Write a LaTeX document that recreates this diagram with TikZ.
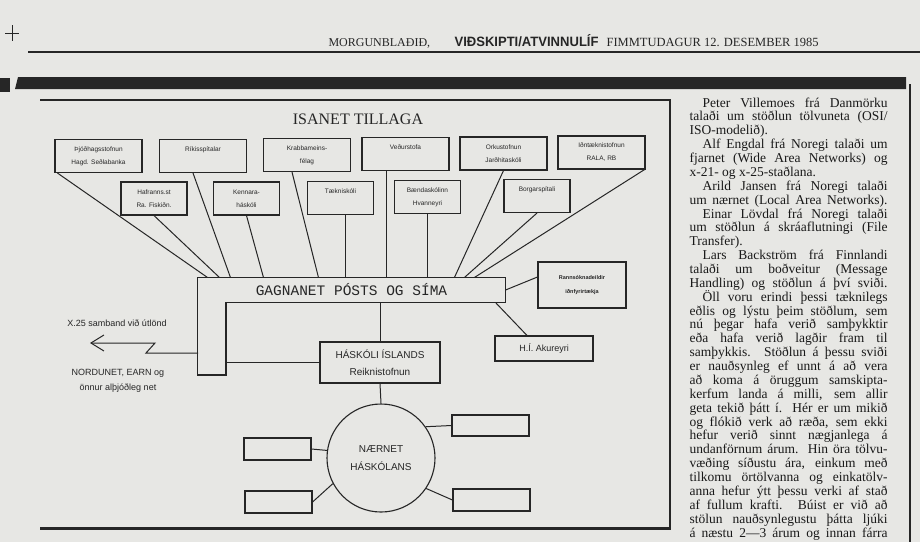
\documentclass[tikz,border=0pt]{standalone}
\usepackage{fontspec}
\setmainfont{Liberation Serif}
\setsansfont{Liberation Sans}
\setmonofont{Liberation Mono}
\usepackage{graphicx}
\usetikzlibrary{arrows.meta,positioning,calc}
\definecolor{paper}{HTML}{E7E7E4}
\definecolor{ink}{HTML}{262626}
\newcommand{\jl}[1]{\makebox[198pt][s]{#1}}
\newcommand{\shortl}[1]{\makebox[198pt][l]{#1}}
\newcommand{\ind}{\hspace*{13pt}}

\begin{document}
\begin{tikzpicture}[
  x=1pt, y=-1pt, line width=1.1pt, ink,
  topbox/.style={draw=ink, minimum width=87pt, minimum height=33pt, inner sep=1pt, align=center, font=\sffamily\fontsize{6.5}{13}\selectfont},
  lowbox/.style={topbox, minimum width=66pt},
  emptybox/.style={draw=ink, inner sep=0pt},
  lbl/.style={font=\sffamily\fontsize{9}{15}\selectfont, align=center, inner sep=0pt},
  biglbl/.style={font=\sffamily\fontsize{10}{17}\selectfont, align=center, inner sep=0pt},
  link/.style={draw=ink, line width=1pt},
]
\fill[paper] (0,0) rectangle (920,542);
\useasboundingbox (0,0) rectangle (920,542);

% page head
\coordinate (crossc) at (12,33);
\draw[line width=0.6pt] ([xshift=-7pt]crossc) -- ([xshift=7pt]crossc);
\draw[line width=0.6pt] ([yshift=8pt]crossc) -- ([yshift=-8pt]crossc);
\node[anchor=base west, inner sep=0pt, font=\fontsize{12}{12}\selectfont] (hdpaper) at (328,46) {MORGUNBLAÐIÐ,};
\node[anchor=base west, inner sep=0pt] (hdsect) at (454,46) {\resizebox{144pt}{12pt}{\sffamily\bfseries VIÐSKIPTI/ATVINNULÍF}};
\node[anchor=base west, inner sep=0pt, font=\fontsize{12.5}{12}\selectfont] (hddate) at (606,46) {FIMMTUDAGUR 12. DESEMBER 1985};
\draw[line width=1.5pt] (28,52) -- (920,52);

% article bar and rules
\fill (0,78) rectangle (10,92);
\fill (18,77) -- (906,77) -- (906,89) -- (15,89) -- cycle;
\draw[line width=2pt] (910,84) -- (910,542);

% diagram frame
\draw[line width=1.8pt] (40,100) -- (670,100) -- (670,528);
\draw[line width=3pt] (40,528) -- (671,528);
\node[inner sep=0pt, font=\fontsize{16}{16}\selectfont] (title) at (358,119) {ISANET TILLAGA};

% top row
\node[topbox] (thj)   at (98.5,156) {Þjóðhagsstofnun\\Hagd. Seðlabanka};
\node[topbox] (riki)  at (203,156)  {Ríkisspítalar\\\mbox{}};
\node[topbox] (krabb) at (307,155)  {Krabbameins-\\félag};
\node[topbox] (vedur) at (405.5,154) {Veðurstofa\\\mbox{}};
\node[topbox] (orku)  at (503.5,153.5) {Orkustofnun\\Jarðhitaskóli};
\node[topbox] (idn)   at (601.5,152.5) {Iðntæknistofnun\\RALA, RB};

% second row
\node[lowbox] (hafr)   at (154,198.5)   {Hafranns.st\\Ra. Fiskiðn.};
\node[lowbox] (kenn)   at (246.5,198.5) {Kennara-\\háskóli};
\node[lowbox] (taekni) at (340.5,198)   {Tækniskóli\\\mbox{}};
\node[lowbox] (baend)  at (427.5,197)   {Bændaskólinn\\Hvanneyri};
\node[lowbox] (borg)   at (537,196)     {Borgarspítali\\\mbox{}};

% gagnanet
\node[minimum width=307pt, minimum height=24pt, inner sep=0pt, font=\ttfamily\fontsize{14.5}{14.5}\selectfont] (gagn) at (351.5,290) {GAGNANET PÓSTS OG SÍMA};
\coordinate (legbot) at (226,375);
\draw (gagn.north west) -- (gagn.north east) -- (gagn.south east) -- (legbot |- gagn.south) -- (legbot) -- (legbot -| gagn.west) -- cycle;

\draw[link] ([xshift=3pt]thj.south west) -- ([xshift=10pt]gagn.north west);
\draw[link] (hafr.south) -- ([xshift=22pt]gagn.north west);
\draw[link] ([xshift=-10pt]riki.south) -- ([xshift=33pt]gagn.north west);
\draw[link] (kenn.south) -- ([xshift=66pt]gagn.north west);
\draw[link] ([xshift=-15pt]krabb.south) -- ([xshift=121pt]gagn.north west);
\draw[link] ([xshift=4.5pt]taekni.south) -- ([xshift=4.5pt]taekni.south |- gagn.north);
\draw[link] ([xshift=-19.5pt]vedur.south) -- ([xshift=-19.5pt]vedur.south |- gagn.north);
\draw[link] (baend.south) -- (baend.south |- gagn.north);
\draw[link] (orku.south) -- ([xshift=257pt]gagn.north west);
\draw[link] (borg.south) -- ([xshift=267pt]gagn.north west);
\draw[link] ([xshift=-1pt]idn.south east) -- ([xshift=277pt]gagn.north west);

% right hand side
\node[draw, minimum width=88pt, minimum height=46pt, inner sep=0pt, align=center, font=\sffamily\bfseries\fontsize{5.5}{14}\selectfont] (rann) at (582,285) {Rannsóknadeildir\\iðnfyrirtækja};
\draw[link] (gagn.east) -- ([yshift=8pt]rann.west);
\node[draw, minimum width=98pt, minimum height=25pt, lbl] (hia) at (544,348.5) {H.Í. Akureyri};
\draw[link] ([xshift=-10pt]gagn.south east) -- ([xshift=-17pt]hia.north);

% haskoli
\node[draw, minimum width=120pt, minimum height=41pt, biglbl] (hi) at (380,362.5) {HÁSKÓLI ÍSLANDS\\Reiknistofnun};
\draw[link] (hi.north |- gagn.south) -- (hi.north);
\draw[link] (hi.west -| legbot) -- (hi.west);

% x.25 out
\coordinate (xfrom) at (198,353);
\coordinate (xend) at (90,343);
\draw[link, -{Straight Barb[length=13pt,width=16pt]}] (xfrom) -- ++(-52,0) -- ++(9,-10) -- (xend);
\node[lbl] (x25) at (117,323) {X.25 samband við útlönd};
\node[lbl] (intl) at (118,380.5) {NORDUNET, EARN og\\önnur alþjóðleg net};

% local net
\node[circle, draw, minimum size=108pt, biglbl, font=\sffamily\fontsize{10}{18}\selectfont] (naer) at (381,458) {NÆRNET\\HÁSKÓLANS};
\draw[link] (hi.south) -- (naer.north);
\node[emptybox, minimum width=77pt, minimum height=21pt] (lan1) at (490.5,425.5) {};
\node[emptybox, minimum width=77pt, minimum height=22pt] (lan2) at (491.5,500) {};
\node[emptybox, minimum width=67pt, minimum height=22pt] (lan3) at (277.5,449) {};
\node[emptybox, minimum width=67pt, minimum height=22pt] (lan4) at (278.5,502) {};
\draw[link] (naer.35) -- (lan1.west);
\draw[link] (naer.-34) -- (lan2.west);
\draw[link] (naer.172) -- (lan3.east);
\draw[link] (naer.208) -- (lan4.east);

% article column
\node[anchor=north west, inner sep=0pt, align=left, text=black!90, font=\fontsize{13.5}{13.87}\selectfont] (col) at (689,97) {%
\jl{\ind Peter Villemoes frá Danmörku}\\
\jl{talaði um stöðlun tölvuneta (OSI/}\\
\shortl{ISO-modelið).}\\
\jl{\ind Alf Engdal frá Noregi talaði um}\\
\jl{fjarnet (Wide Area Networks) og}\\
\shortl{x-21- og x-25-staðlana.}\\
\jl{\ind Arild Jansen frá Noregi talaði}\\
\jl{um nærnet (Local Area Networks).}\\
\jl{\ind Einar Lövdal frá Noregi talaði}\\
\jl{um stöðlun á skráaflutningi (File}\\
\shortl{Transfer).}\\
\jl{\ind Lars Backström frá Finnlandi}\\
\jl{talaði um boðveitur (Message}\\
\jl{Handling) og stöðlun á því sviði.}\\
\jl{\ind Öll voru erindi þessi tæknilegs}\\
\jl{eðlis og lýstu þeim stöðlum, sem}\\
\jl{nú þegar hafa verið samþykktir}\\
\jl{eða hafa verið lagðir fram til}\\
\jl{samþykkis. Stöðlun á þessu sviði}\\
\jl{er nauðsynleg ef unnt á að vera}\\
\jl{að koma á öruggum samskipta-}\\
\jl{kerfum landa á milli, sem allir}\\
\jl{geta tekið þátt í. Hér er um mikið}\\
\jl{og flókið verk að ræða, sem ekki}\\
\jl{hefur verið sinnt nægjanlega á}\\
\jl{undanförnum árum. Hin öra tölvu-}\\
\jl{væðing síðustu ára, einkum með}\\
\jl{tilkomu örtölvanna og einkatölv-}\\
\jl{anna hefur ýtt þessu verki af stað}\\
\jl{af fullum krafti. Búist er við að}\\
\jl{stölun nauðsynlegustu þátta ljúki}\\
\jl{á næstu 2—3 árum og innan fárra}};
\end{tikzpicture}
\end{document}
